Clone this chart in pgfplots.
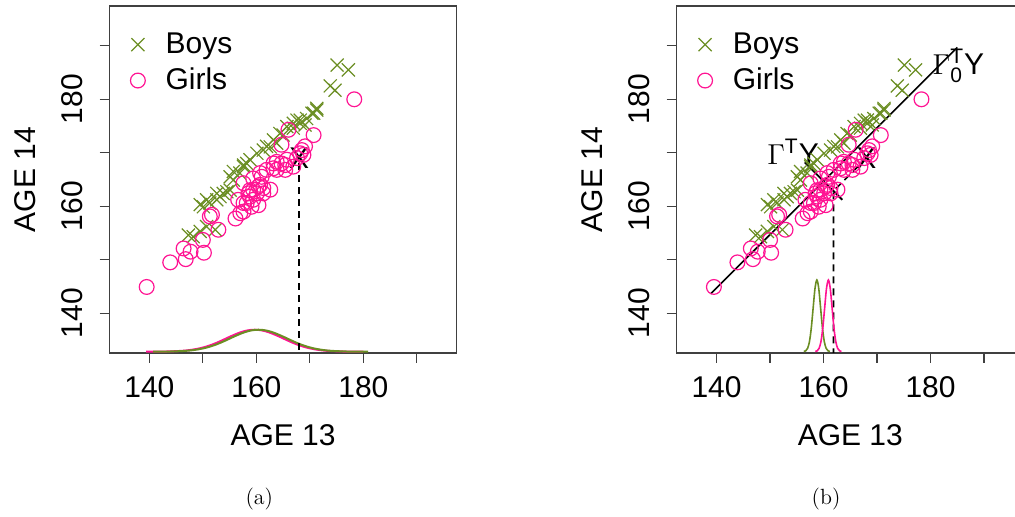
\documentclass[border=0pt]{standalone}
\usepackage{fontspec}
\usepackage{amsmath}
\usepackage{pgfplots}
\usepackage{pgfplotstable}
\pgfplotsset{compat=1.18}
\newfontfamily\arial{Liberation Sans}
\definecolor{boys}{RGB}{107,142,35}
\definecolor{girls}{RGB}{255,20,147}
\newcommand{\sfbig}{\arial\fontsize{15}{18}\selectfont}

\pgfplotstableread{
x y
147.3 154.6
148.2 154.3
149.5 155.3
150.7 156.2
152.3 155.6
149.5 160.3
150.1 159.9
150.7 161.2
151.3 160.6
152.6 161.2
152.6 162.4
153.2 161.8
153.8 162.4
154.5 162.7
155.1 163.0
155.1 165.5
155.7 164.9
155.7 166.5
156.9 166.2
157.6 167.4
157.6 167.7
158.2 168.0
158.8 168.7
160.1 169.9
161.3 170.5
161.9 171.2
162.6 171.1
163.2 172.4
163.8 171.8
164.4 173.6
165.0 173.3
165.7 174.9
166.9 174.6
166.9 175.5
167.6 176.1
168.2 175.5
168.2 176.1
169.1 175.2
169.4 176.4
170.4 177.4
170.7 177.4
171.3 178.0
171.3 178.3
173.8 182.5
174.7 181.7
175.1 186.4
177.2 185.5
}\boysdata

\pgfplotstableread{
x y
139.5 144.9
143.9 149.5
146.4 152.1
146.8 150.1
147.7 151.5
150.0 153.7
150.2 151.3
151.3 158.1
151.7 158.4
152.9 155.6
156.1 157.7
156.6 161.2
157.0 158.7
157.6 159.0
157.6 160.6
157.6 164.3
158.2 160.6
158.5 162.4
158.8 161.8
158.8 163.0
159.1 159.9
159.4 161.2
159.4 163.1
159.4 165.2
160.1 162.4
160.4 160.2
160.4 163.7
160.7 164.0
160.7 166.2
161.0 165.5
161.3 162.4
161.3 163.4
161.9 166.8
162.6 163.1
163.2 167.1
163.2 168.0
163.8 166.8
163.8 168.3
164.7 168.0
164.7 171.5
165.4 166.8
165.4 167.7
165.7 168.7
166.0 174.3
166.9 167.4
167.6 169.0
168.2 169.9
168.5 170.5
168.8 169.6
169.1 171.2
170.7 173.3
178.3 180.0
}\girlsdata

\pgfplotsset{
  myaxis/.style={
    scale only axis, width=173.6pt, height=173.5pt,
    anchor=south west,
    xmin=132.55, xmax=197.45, ymin=132.55, ymax=197.45,
    axis line style={black!75, line width=0.6pt},
    xtick={140,150,...,190}, xticklabels={140,,160,,180,},
    ytick={140,150,...,190}, yticklabels={140,,160,,180,},
    xtick pos=bottom, ytick pos=left,
    tick align=outside, major tick length=5pt,
    tick style={black!75, line width=0.6pt},
    tick label style={font=\sfbig},
    /pgf/number format/assume math mode=true,
    xticklabel style={anchor=center, yshift=-12.25pt},
    yticklabel style={xshift=-13.9pt, rotate=90, anchor=center},
    xlabel={AGE 13}, ylabel={AGE 14},
    label style={font=\sfbig},
    xlabel style={at={(axis description cs:0.5,-0.2363)}, anchor=center},
    ylabel style={at={(axis description cs:-0.2434,0.5)}, anchor=center},
    legend style={draw=none, fill=none, at={(axis description cs:0.042,0.944)},
      anchor=north west, font=\sfbig, row sep=2.85pt, nodes={inner sep=1.5pt},
      /tikz/every odd column/.append style={column sep=8.65pt}},
    legend cell align=left,
  },
  boysplot/.style={only marks, mark=x, mark size=4.6pt, color=boys, mark options={line width=0.6pt}},
  girlsplot/.style={only marks, mark=o, mark size=3.7pt, color=girls, mark options={line width=0.6pt}},
}

\begin{document}
\begin{tikzpicture}
% ---------------- (a) ----------------
\begin{axis}[myaxis, at={(54.75pt,82pt)}]
\addplot[boysplot] table {\boysdata};
\addlegendentry{Boys}
\addplot[girlsplot] table {\girlsdata};
\addlegendentry{Girls}
\addplot[girls, line width=1pt, smooth, forget plot] coordinates {
(139.4,132.80)(141.7,132.81)(143.7,132.84)(145.7,132.93)(146.7,133.00)(147.7,133.12)(148.7,133.28)(149.7,133.49)(150.7,133.77)(151.7,134.11)(152.7,134.51)(153.7,134.96)(154.7,135.43)(155.7,135.88)(156.7,136.29)(157.7,136.62)(158.7,136.83)(159.7,136.90)(160.7,136.83)(161.7,136.62)(162.7,136.29)(163.7,135.88)(164.7,135.43)(165.7,134.96)(166.7,134.51)(167.7,134.11)(168.7,133.77)(169.7,133.49)(170.7,133.28)(171.7,133.12)(172.7,133.00)(173.7,132.93)(175.7,132.84)(177.7,132.81)(180.0,132.80)};
\addplot[boys, line width=1pt, smooth, forget plot] coordinates {
(140.7,132.80)(142.4,132.81)(144.4,132.84)(146.4,132.93)(147.4,133.00)(148.4,133.12)(149.4,133.28)(150.4,133.49)(151.4,133.77)(152.4,134.11)(153.4,134.51)(154.4,134.96)(155.4,135.43)(156.4,135.88)(157.4,136.29)(158.4,136.62)(159.4,136.83)(160.4,136.90)(161.4,136.83)(162.4,136.62)(163.4,136.29)(164.4,135.88)(165.4,135.43)(166.4,134.96)(167.4,134.51)(168.4,134.11)(169.4,133.77)(170.4,133.49)(171.4,133.28)(172.4,133.12)(173.4,133.00)(174.4,132.93)(176.4,132.84)(178.4,132.81)(180.9,132.80)};
\addplot[black, line width=0.8pt, dash pattern=on 3.5pt off 2.5pt, forget plot] coordinates {(168,168.0)(168,132.55)};
\node[font=\sfbig] at (axis cs:168,169) {X};
\end{axis}
% ---------------- (b) ----------------
\begin{axis}[myaxis, at={(338.35pt,82pt)}]
\addplot[boysplot] table {\boysdata};
\addlegendentry{Boys}
\addplot[girlsplot] table {\girlsdata};
\addlegendentry{Girls}
\addplot[black, line width=0.8pt, forget plot] coordinates {(138.9,143.6)(185.0,189.7)};
\addplot[black, line width=0.9pt, forget plot] coordinates {(156.5,168.2)(163.5,161.2)};
\addplot[black, line width=0.8pt, dash pattern=on 3.5pt off 2.5pt, forget plot] coordinates {(168,169)(161.85,162.85)(161.85,132.55)};
\addplot[boys, line width=0.8pt, smooth, forget plot] coordinates {
(156.30,132.83)(156.65,132.95)(157.00,133.39)(157.35,134.61)(157.70,137.15)(158.05,140.93)(158.40,144.62)(158.75,146.20)(159.10,144.62)(159.45,140.93)(159.80,137.15)(160.15,134.61)(160.50,133.39)(160.85,132.95)(161.20,132.83)};
\addplot[girls, line width=0.8pt, smooth, forget plot] coordinates {
(158.45,132.83)(158.80,132.95)(159.15,133.39)(159.50,134.61)(159.85,137.15)(160.20,140.93)(160.55,144.62)(160.90,146.20)(161.25,144.62)(161.60,140.93)(161.95,137.15)(162.30,134.61)(162.65,133.39)(163.00,132.95)(163.35,132.83)};
\node[font=\sfbig] at (axis cs:168,169) {X};
\node[font=\sfbig] at (axis cs:154.3,170.15) {$\Gamma^{\text{T}}$Y};
\node[font=\sfbig] at (axis cs:185.2,186.2) {$\Gamma_{\text{0}}^{\text{T}}$Y};
\end{axis}
\node[font=\fontsize{11}{13}\selectfont] at (129.65pt,9pt) {(a)};
\node[font=\fontsize{11}{13}\selectfont] at (413pt,9pt) {(b)};
\pgfresetboundingbox
\path[use as bounding box] (0pt,0pt) rectangle (507.5pt,258.5pt);
\end{tikzpicture}
\end{document}
